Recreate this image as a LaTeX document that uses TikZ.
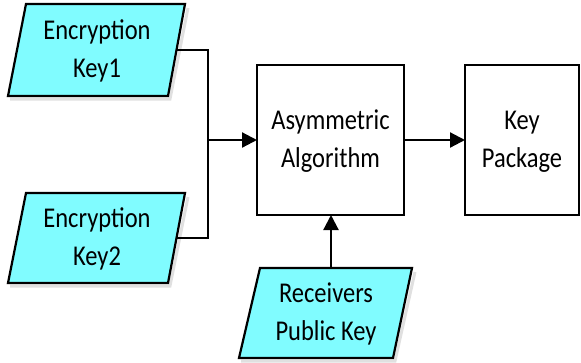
\documentclass[tikz,border=0pt]{standalone}
\usepackage{fontspec}
\usepackage{graphicx}
\setmainfont{Carlito}
\usetikzlibrary{arrows.meta}
\definecolor{keyfill}{HTML}{80FCFF}
\newcommand{\twolines}[2]{\scalebox{1}[1.17]{\begin{tabular}{@{}c@{}}#1\\#2\end{tabular}}}
\tikzset{
  shape line/.style={draw=black, line width=2.2pt, line join=miter},
  para/.style={shape line, fill=keyfill},
  proc/.style={shape line, fill=white},
  label/.style={align=center, font=\fontsize{24.5}{32.5}\selectfont, text=black, inner sep=0pt},
  conn/.style={draw=black, line width=2.2pt},
  arr/.style={conn, -{Triangle[length=15pt,width=15pt]}},
  shadowline/.style={draw=black!12, line width=3pt}
}
\begin{document}
\begin{tikzpicture}[x=1pt,y=-1pt]
\useasboundingbox (0,0) rectangle (581,362);
% shadows
\draw[shadowline] (10,99) -- (170,99) -- (188,8);
\draw[shadowline] (10,286) -- (170,286) -- (188,197);
\draw[shadowline] (241,361) -- (395,361) -- (415,272);
% parallelograms
\draw[para] (26,4) -- (185,4) -- (168,96) -- (8,96) -- cycle;
\node[label] (k1) at (97,51) {\twolines{Encryption}{Key1}};
\draw[para] (26,193) -- (185,193) -- (168,283) -- (8,283) -- cycle;
\node[label] (k2) at (97,239) {\twolines{Encryption}{Key2}};
\draw[para] (260,268) -- (412,268) -- (393,358) -- (239,358) -- cycle;
\node[label] (rpk) at (326,314) {\twolines{Receivers}{Public Key}};
% boxes
\draw[proc] (257,65) rectangle (404,215);
\node[label] (alg) at (330.5,141) {\twolines{Asymmetric}{Algorithm}};
\draw[proc] (465,65) rectangle (579,215);
\node[label] (pkg) at (522,141) {\twolines{Key}{Package}};
% anchor coordinates
\coordinate (k1out) at (176,50);
\coordinate (k2out) at (176,238);
\coordinate (j1) at (208,50);
\coordinate (j2) at (208,238);
\coordinate (jm) at (208,140);
\coordinate (algin) at (257,140);
\coordinate (algout) at (404,140);
\coordinate (pkgin) at (465,140);
\coordinate (rpkout) at (331,268);
\coordinate (algbot) at (331,215);
% connectors
\draw[conn] (k1out) -- (j1) -- (j2) -- (k2out);
\draw[arr] (jm) -- (algin);
\draw[arr] (algout) -- (pkgin);
\draw[arr] (rpkout) -- (algbot);
\end{tikzpicture}
\end{document}
